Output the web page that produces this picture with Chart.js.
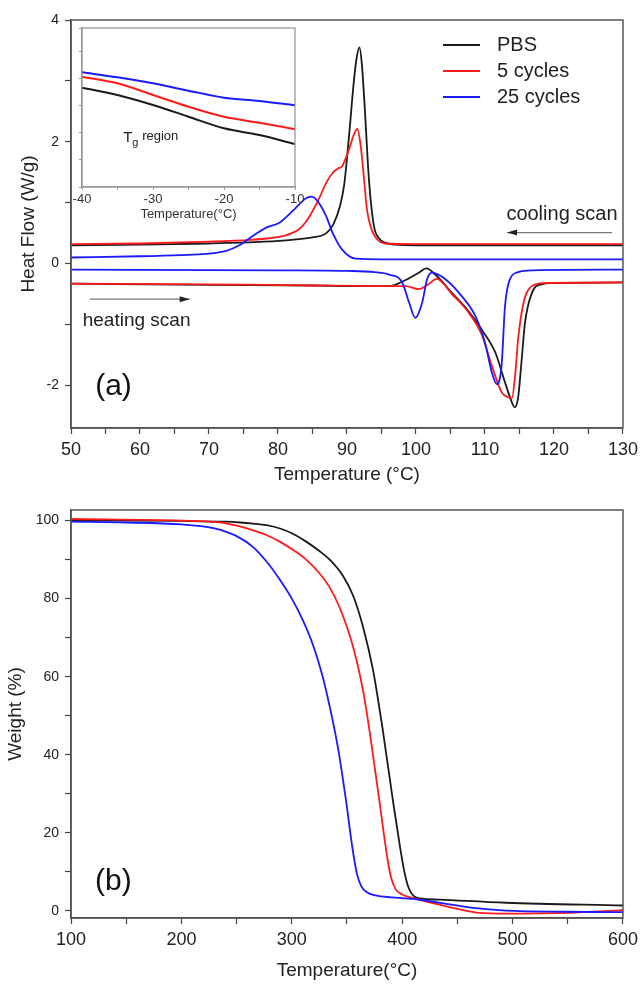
<!DOCTYPE html>
<html><head><meta charset="utf-8">
<script src="https://cdn.jsdelivr.net/npm/chart.js@4.4.1/dist/chart.umd.min.js"></script>
<style>
html,body{margin:0;padding:0;background:#fff;}
#wrap{position:relative;width:643px;height:986px;overflow:hidden;}
#cA{position:absolute;left:0;top:0;}
#cIn{position:absolute;left:50px;top:8px;}
#cB{position:absolute;left:0;top:490px;}
</style></head><body>
<div id="wrap">
<canvas id="cA" width="643" height="490"></canvas>
<canvas id="cIn" width="270" height="220"></canvas>
<canvas id="cB" width="643" height="496"></canvas>
</div>
<script>
// ---------- Panel (a): DSC ----------
const seriesNames = ['PBS', '5 cycles', '25 cycles'];
const coolT_PBS = [50, 60, 70, 78, 82, 85, 87, 88, 89, 89.6, 90.3, 91, 91.4, 91.8, 92.15, 92.5, 93.2, 93.9, 94.6, 95.6, 97, 100, 130];
const coolF_PBS = [0.30, 0.31, 0.33, 0.36, 0.39, 0.43, 0.50, 0.64, 0.95, 1.30, 2.10, 3.00, 3.38, 3.55, 3.28, 2.70, 1.35, 0.62, 0.42, 0.34, 0.31, 0.30, 0.30];
const coolT_5 = [50, 60, 70, 76, 79, 81, 82, 83, 84, 85, 86, 87, 88, 88.7, 89.3, 90.3, 91, 91.5, 92, 92.5, 92.9, 93.5, 94.2, 95.6, 100, 130];
const coolF_5 = [0.32, 0.33, 0.36, 0.39, 0.42, 0.46, 0.50, 0.56, 0.68, 0.86, 1.08, 1.33, 1.50, 1.56, 1.60, 1.88, 2.12, 2.21, 1.92, 1.35, 0.88, 0.58, 0.42, 0.33, 0.32, 0.32];
const coolT_25 = [50, 60, 66, 69.6, 72.5, 74.4, 76.3, 78.3, 80.2, 82.1, 84, 84.8, 85.5, 86.9, 87.9, 89.3, 91.3, 95, 130];
const coolF_25 = [0.10, 0.12, 0.14, 0.16, 0.21, 0.30, 0.45, 0.59, 0.67, 0.86, 1.07, 1.10, 1.06, 0.80, 0.51, 0.23, 0.08, 0.07, 0.07];
const heatT_PBS = [50, 70, 85, 93, 96.1, 98.5, 100.4, 101.5, 102.8, 105.2, 107.6, 109.5, 111.5, 112.9, 113.8, 114.3, 114.8, 115.3, 115.8, 116.8, 118.2, 120, 130];
const heatF_PBS = [-0.33, -0.35, -0.36, -0.37, -0.37, -0.27, -0.15, -0.08, -0.18, -0.48, -0.78, -1.08, -1.46, -1.95, -2.25, -2.36, -2.20, -1.60, -0.97, -0.48, -0.34, -0.32, -0.31];
const heatT_5 = [50, 70, 85, 95, 98.5, 100.4, 101.8, 103, 105.2, 107.6, 109.5, 111, 112.4, 113.4, 113.9, 114.4, 114.8, 115.6, 116.8, 118.5, 130];
const heatF_5 = [-0.33, -0.34, -0.36, -0.37, -0.37, -0.42, -0.34, -0.25, -0.50, -0.80, -1.16, -1.68, -2.11, -2.20, -2.21, -1.80, -1.24, -0.64, -0.37, -0.32, -0.31];
const heatT_25 = [50, 80, 90, 94, 96.1, 98, 99, 99.9, 100.9, 101.6, 102.3, 104.3, 106.6, 108.6, 110, 111, 111.7, 112.4, 112.9, 113.6, 114.8, 117, 130];
const heatF_25 = [-0.10, -0.11, -0.12, -0.14, -0.18, -0.31, -0.64, -0.89, -0.64, -0.26, -0.15, -0.26, -0.53, -0.86, -1.30, -1.79, -1.98, -1.68, -0.70, -0.26, -0.14, -0.11, -0.10];

// ---------- Inset: Tg region ----------
const insetT = [-40, -35, -30, -25, -20, -15, -10];
const insetPBS = [6.25, 5.79, 5.16, 4.42, 3.69, 3.27, 2.70];
const inset5 = [6.94, 6.52, 5.79, 5.05, 4.42, 4.04, 3.63];
const inset25 = [7.21, 6.90, 6.52, 6.06, 5.62, 5.41, 5.14];

// ---------- Panel (b): TGA ----------
const tgaT_PBS = [100, 150, 200, 240, 253, 265, 277, 290, 301, 313, 325, 335, 346, 355.5, 364.5, 373.6, 382.6, 391.9, 398, 402, 405, 408, 411, 416, 434, 494, 600];
const tgaW_PBS = [100.0, 100.0, 99.9, 99.7, 99.5, 99.2, 98.8, 97.9, 96.6, 94.6, 92.2, 89.8, 86.0, 80.8, 72.8, 61.7, 46.0, 27.7, 16.5, 10.0, 6.6, 4.7, 3.7, 3.2, 2.9, 2.1, 1.4];
const tgaT_5 = [100, 200, 220, 240, 253, 265, 277, 289, 301, 313, 325, 334, 343.5, 355.5, 364.5, 370.6, 379.6, 383, 387, 390, 394, 400, 410, 433.9, 452, 470, 494, 550, 600];
const tgaW_5 = [100.4, 100.0, 99.8, 99.3, 98.5, 97.5, 96.3, 94.6, 92.5, 90.0, 86.5, 83.0, 77.6, 67.7, 56.5, 45.8, 27.7, 20.5, 12.8, 8.5, 5.6, 4.2, 3.3, 1.6, 0.4, -0.5, -0.7, -0.5, 0.2];
const tgaT_25 = [100, 150, 200, 230, 250, 265, 280, 290, 300, 310, 320, 328, 335, 342, 349, 355, 359, 363, 368, 376, 390, 410, 434, 464, 494, 550, 600];
const tgaW_25 = [99.7, 99.5, 99.0, 98.0, 96.0, 93.2, 88.5, 84.5, 80.0, 74.5, 67.5, 60.0, 51.5, 41.5, 28.5, 16.0, 9.5, 6.3, 4.8, 4.0, 3.5, 3.1, 2.1, 0.8, 0.1, -0.2, -0.3];

const COL = ['#1a1a1a', '#ff1a1a', '#1a1aff'];
const FONT = "'Liberation Sans', Arial, sans-serif";
Chart.defaults.font.family = FONT;
Chart.defaults.color = '#222';

const mk = (xs, ys) => xs.map((v, i) => ({x: v, y: ys[i]}));
function ds(xs, ys, color, w) {
  return {data: mk(xs, ys), borderColor: color, borderWidth: w, pointRadius: 0, fill: false,
          cubicInterpolationMode: 'monotone', showLine: true};
}
function xAxis(min, max, step, major, fs, title, h, tfs) {
  return {type: 'linear', min, max,
    ticks: {stepSize: step, autoSkip: false, maxRotation: 0, includeBounds: false, padding: 5,
            font: {size: fs}, color: '#222', callback: v => (Math.abs(v % major) < 1e-9 ? v : '')},
    grid: {drawOnChartArea: false, tickLength: 6, color: '#444', tickWidth: 1.2},
    border: {color: '#444', width: 1.5},
    title: {display: true, text: title, font: {size: tfs}, color: '#222', padding: {top: 2, bottom: 4}},
    afterFit: s => { s.height = h; }};
}
function yAxis(min, max, step, major, fs, title, w) {
  return {type: 'linear', min, max,
    ticks: {stepSize: step, autoSkip: false, includeBounds: false, padding: 6,
            font: {size: fs}, color: '#222', callback: v => (Math.abs(v % major) < 1e-9 ? v : '')},
    grid: {drawOnChartArea: false, tickLength: 6, color: '#444', tickWidth: 1.2},
    border: {color: '#444', width: 1.5},
    title: {display: true, text: title, font: {size: 19}, color: '#222', padding: {top: 4, bottom: 4}},
    afterFit: s => { s.width = w; }};
}
function arrow(ctx, x1, y, x2, dir) {
  ctx.strokeStyle = '#777'; ctx.lineWidth = 1.2;
  ctx.beginPath(); ctx.moveTo(x1, y); ctx.lineTo(x2, y); ctx.stroke();
  const hx = dir < 0 ? Math.min(x1, x2) : Math.max(x1, x2);
  ctx.fillStyle = '#222';
  ctx.beginPath(); ctx.moveTo(hx, y); ctx.lineTo(hx - dir * 10, y - 3); ctx.lineTo(hx - dir * 10, y + 3); ctx.closePath(); ctx.fill();
}

const annotA = {
  id: 'annotA',
  afterDraw(chart) {
    const {ctx, chartArea: a, scales: {x, y}} = chart;
    ctx.save();
    ctx.strokeStyle = '#555'; ctx.lineWidth = 1.5;
    ctx.strokeRect(a.left, a.top, a.right - a.left, a.bottom - a.top);
    // legend
    ctx.font = '20px ' + FONT; ctx.textBaseline = 'middle'; ctx.textAlign = 'left';
    seriesNames.forEach((n, i) => {
      const yy = a.top + 25 + i * 26;
      ctx.strokeStyle = COL[i]; ctx.lineWidth = 2;
      ctx.beginPath(); ctx.moveTo(a.left + 372, yy); ctx.lineTo(a.left + 409, yy); ctx.stroke();
      ctx.fillStyle = '#222'; ctx.fillText(n, a.left + 426, yy);
    });
    // cooling scan
    ctx.fillStyle = '#222'; ctx.font = '20px ' + FONT;
    ctx.fillText('cooling scan', x.getPixelForValue(113.1), y.getPixelForValue(0.81));
    arrow(ctx, x.getPixelForValue(128.4), y.getPixelForValue(0.51), x.getPixelForValue(113.2), -1);
    // heating scan
    ctx.fillStyle = '#222'; ctx.font = '19px ' + FONT;
    ctx.fillText('heating scan', x.getPixelForValue(51.7), y.getPixelForValue(-0.94));
    arrow(ctx, x.getPixelForValue(52.7), y.getPixelForValue(-0.585), x.getPixelForValue(67.2), 1);
    // panel label
    ctx.fillStyle = '#111'; ctx.font = '30px ' + FONT;
    ctx.fillText('(a)', x.getPixelForValue(53.5), y.getPixelForValue(-2.03));
    ctx.restore();
  }
};

new Chart(document.getElementById('cA'), {
  type: 'line',
  data: {datasets: [
    ds(coolT_25, coolF_25, COL[2], 1.8), ds(heatT_25, heatF_25, COL[2], 1.8),
    ds(coolT_5, coolF_5, COL[1], 1.8), ds(heatT_5, heatF_5, COL[1], 1.8),
    ds(coolT_PBS, coolF_PBS, COL[0], 1.8), ds(heatT_PBS, heatF_PBS, COL[0], 1.8)
  ]},
  options: {
    responsive: false, animation: false, devicePixelRatio: 1,
    layout: {padding: {left: 13, top: 20, right: 18, bottom: 0}},
    plugins: {legend: {display: false}, tooltip: {enabled: false}},
    scales: {
      x: xAxis(50, 130, 5, 10, 18, 'Temperature (°C)', 62, 19),
      y: yAxis(-2.7, 4, 1, 2, 14, 'Heat Flow (W/g)', 58)
    }
  },
  plugins: [annotA]
});

// inset
const annotIn = {
  id: 'annotIn',
  beforeDraw(chart) {
    const {ctx, chartArea: a} = chart;
    ctx.save(); ctx.fillStyle = '#fff';
    ctx.fillRect(a.left, a.top, a.right - a.left, a.bottom - a.top); ctx.restore();
  },
  afterDraw(chart) {
    const {ctx, chartArea: a, scales: {x, y}} = chart;
    ctx.save();
    ctx.strokeStyle = '#999'; ctx.lineWidth = 1.3;
    ctx.strokeRect(a.left, a.top, a.right - a.left, a.bottom - a.top);
    ctx.fillStyle = '#222'; ctx.textBaseline = 'alphabetic'; ctx.textAlign = 'left';
    const tx = x.getPixelForValue(-34.2), ty = y.getPixelForValue(2.83);
    ctx.font = '15px ' + FONT; ctx.fillText('T', tx, ty);
    ctx.font = '11px ' + FONT; ctx.fillText('g', tx + 9, ty + 4);
    ctx.font = '13px ' + FONT; ctx.fillText('region', tx + 19, ty - 2);
    ctx.restore();
  }
};
new Chart(document.getElementById('cIn'), {
  type: 'line',
  data: {datasets: [
    ds(insetT, inset25, COL[2], 2), ds(insetT, inset5, COL[1], 2), ds(insetT, insetPBS, COL[0], 2)
  ]},
  options: {
    responsive: false, animation: false, devicePixelRatio: 1,
    layout: {padding: {left: 0, top: 20, right: 25, bottom: 0}},
    plugins: {legend: {display: false}, tooltip: {enabled: false}},
    scales: {
      x: {type: 'linear', min: -40, max: -10,
        ticks: {stepSize: 5, autoSkip: false, maxRotation: 0, padding: 2, font: {size: 13}, color: '#333',
                callback: v => (v % 10 === 0 ? v : '')},
        grid: {drawOnChartArea: false, tickLength: 3, color: '#999'},
        border: {color: '#999', width: 1.3},
        title: {display: true, text: 'Temperature(°C)', font: {size: 13}, color: '#333', padding: {top: 0, bottom: 6}},
        afterFit: s => { s.height = 41; }},
      y: {type: 'linear', min: 0, max: 10,
        ticks: {display: false, stepSize: 1.7},
        grid: {drawOnChartArea: false, tickLength: 3, color: '#999'},
        border: {color: '#999', width: 1.3},
        afterFit: s => { s.width = 32; }}
    }
  },
  plugins: [annotIn]
});

// panel b
const annotB = {
  id: 'annotB',
  afterDraw(chart) {
    const {ctx, chartArea: a, scales: {x, y}} = chart;
    ctx.save();
    ctx.strokeStyle = '#555'; ctx.lineWidth = 1.5;
    ctx.strokeRect(a.left, a.top, a.right - a.left, a.bottom - a.top);
    ctx.fillStyle = '#111'; ctx.font = '30px ' + FONT; ctx.textBaseline = 'middle';
    ctx.fillText('(b)', x.getPixelForValue(121.7), y.getPixelForValue(7.4));
    ctx.restore();
  }
};
new Chart(document.getElementById('cB'), {
  type: 'line',
  data: {datasets: [
    ds(tgaT_25, tgaW_25, COL[2], 1.8), ds(tgaT_5, tgaW_5, COL[1], 1.8), ds(tgaT_PBS, tgaW_PBS, COL[0], 1.8)
  ]},
  options: {
    responsive: false, animation: false, devicePixelRatio: 1,
    layout: {padding: {left: 0, top: 20, right: 20, bottom: 0}},
    plugins: {legend: {display: false}, tooltip: {enabled: false}},
    scales: {
      x: xAxis(100, 600, 50, 100, 18, 'Temperature(°C)', 68, 19),
      y: yAxis(-1.8, 102.7, 10, 20, 14, 'Weight (%)', 71)
    }
  },
  plugins: [annotB]
});
</script>
</body></html>
